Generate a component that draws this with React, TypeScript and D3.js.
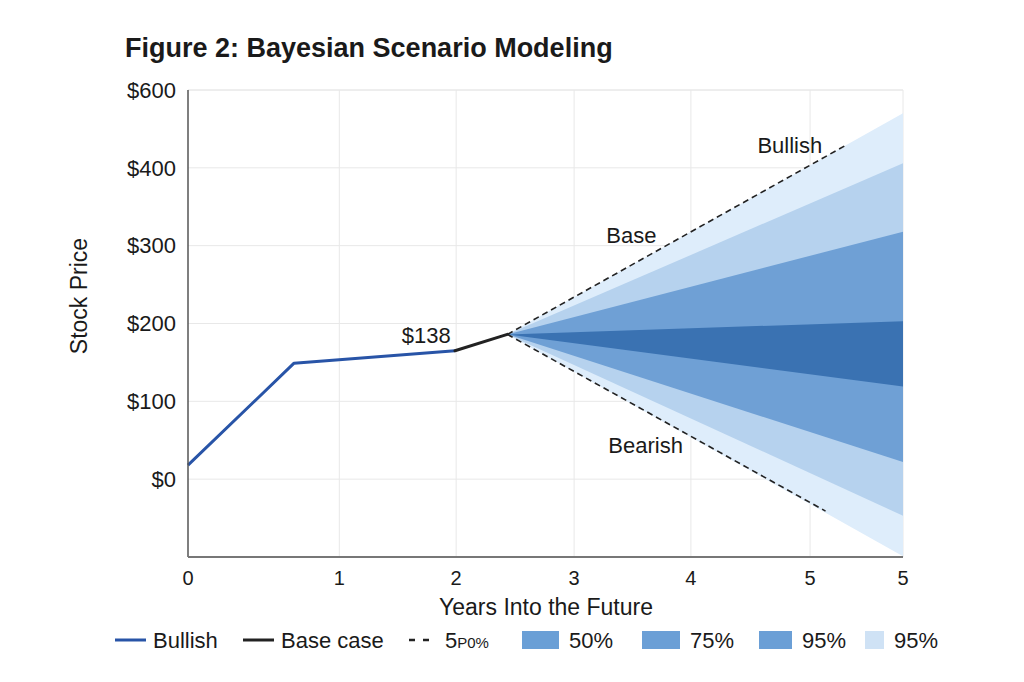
import { useEffect } from 'react';
import * as d3 from 'd3';

// y values are on the drawn scale; labels are what the figure prints
const yTickValues = [0, 100, 200, 300, 400, 500];
const yTickLabels = ['$0', '$100', '$200', '$300', '$400', '$600'];

// x positions of the printed year ticks (the figure spaces them unevenly)
const xTickValues = [0, 1.27, 2.25, 3.24, 4.22, 5.22, 6];
const xTickLabels = ['0', '1', '2', '3', '4', '5', '5'];

// history
const bullishHistory = [
    { x: 0, y: 18 },
    { x: 0.89, y: 149 },
    { x: 2.24, y: 165 },
];
const baseHistory = [
    { x: 2.24, y: 165 },
    { x: 2.68, y: 186 },
];

// scenario dashed lines
const bullishScenario = [
    { x: 2.68, y: 186 },
    { x: 5.52, y: 429 },
];
const bearishScenario = [
    { x: 2.68, y: 186 },
    { x: 5.35, y: -41 },
];

// fan bands: [start, end] for low and high edge
const fanX = [2.68, 6];
const outerLow = [186, -99];
const outerHigh = [186, 470];
const band95Low = [186, -47];
const band95High = [186, 406];
const band75Low = [186, 22];
const band75High = [186, 318];
const band50Low = [186, 119];
const band50High = [186, 203];

const bands = [
    { low: outerLow, high: outerHigh, color: '#deedfb' },
    { low: band95Low, high: band95High, color: '#b6d2ee' },
    { low: band75Low, high: band75High, color: '#6fa0d5' },
    { low: band50Low, high: band50High, color: '#3a72b2' },
];

const legendSwatches = [
    { label: '50%', color: '#6a9fd6' },
    { label: '75%', color: '#6b9fd6' },
    { label: '95%', color: '#6b9fd6' },
    { label: '95%', color: '#cfe2f5' },
];

const width = 1024;
const height = 682;
const margin = { top: 90, right: 121, bottom: 125, left: 188 };
const font = '"Liberation Sans", Arial, sans-serif';

export default function App() {
    useEffect(() => {
        document.body.style.margin = '0';
    }, []);

    const innerWidth = width - margin.left - margin.right;
    const innerHeight = height - margin.top - margin.bottom;

    const x = d3.scaleLinear().domain([0, 6]).range([0, innerWidth]);
    const y = d3.scaleLinear().domain([-100, 500]).range([innerHeight, 0]);

    const line = d3.line<{ x: number; y: number }>()
        .x(d => x(d.x))
        .y(d => y(d.y));

    const area = (low: number[], high: number[]) =>
        d3.area<number>()
            .x(d => x(fanX[d]))
            .y0(d => y(low[d]))
            .y1(d => y(high[d]))([0, 1]) || '';

    const legendY = 640;

    return (
        <svg width={width} height={height} style={{ display: 'block', background: '#fff' }} fontFamily={font}>
            <text x={125} y={57} fontSize={27} fontWeight="bold" fill="#1a1a1a">
                Figure 2: Bayesian Scenario Modeling
            </text>

            <g transform={`translate(${margin.left},${margin.top})`}>
                {/* grid */}
                {[...yTickValues, 500].map((v, i) => (
                    <line key={'gy' + i} x1={0} x2={innerWidth} y1={y(v)} y2={y(v)} stroke="#e8e8e8" strokeWidth={1} />
                ))}
                {xTickValues.slice(1).map((v, i) => (
                    <line key={'gx' + i} x1={x(v)} x2={x(v)} y1={0} y2={innerHeight} stroke="#e8e8e8" strokeWidth={1} />
                ))}

                {/* fan */}
                {bands.map((b, i) => (
                    <path key={'b' + i} d={area(b.low, b.high)} fill={b.color} />
                ))}

                {/* scenario lines */}
                <path d={line(bullishScenario) || ''} fill="none" stroke="#222" strokeWidth={1.6} strokeDasharray="6,4" />
                <path d={line(bearishScenario) || ''} fill="none" stroke="#222" strokeWidth={1.6} strokeDasharray="6,4" />

                {/* history */}
                <path d={line(bullishHistory) || ''} fill="none" stroke="#2854a7" strokeWidth={3} strokeLinejoin="round" />
                <path d={line(baseHistory) || ''} fill="none" stroke="#222" strokeWidth={3} strokeLinecap="round" />

                {/* axes */}
                <line x1={0} x2={0} y1={0} y2={innerHeight} stroke="#555" strokeWidth={1.5} />
                <line x1={0} x2={innerWidth} y1={innerHeight} y2={innerHeight} stroke="#777" strokeWidth={2} />

                {yTickValues.map((v, i) => (
                    <text key={'yt' + i} x={-12} y={y(v)} dy="0.35em" textAnchor="end" fontSize={22} fill="#1a1a1a">
                        {yTickLabels[i]}
                    </text>
                ))}
                {xTickValues.map((v, i) => (
                    <text key={'xt' + i} x={x(v)} y={innerHeight + 28} textAnchor="middle" fontSize={20} fill="#1a1a1a">
                        {xTickLabels[i]}
                    </text>
                ))}

                {/* annotations */}
                <text x={x(5.05)} y={y(429) + 8} textAnchor="middle" fontSize={22} fill="#1a1a1a">Bullish</text>
                <text x={x(3.72)} y={y(314) + 8} textAnchor="middle" fontSize={22} fill="#1a1a1a">Base</text>
                <text x={x(3.84)} y={y(44) + 8} textAnchor="middle" fontSize={22} fill="#1a1a1a">Bearish</text>
                <text x={x(2.0)} y={y(185) + 8} textAnchor="middle" fontSize={22} fill="#1a1a1a">$138</text>
            </g>

            <text x={546} y={615} textAnchor="middle" fontSize={23} fill="#1a1a1a">Years Into the Future</text>
            <text transform="translate(87,296) rotate(-90)" textAnchor="middle" fontSize={23} fill="#1a1a1a">Stock Price</text>

            {/* legend */}
            <g fontSize={22} fill="#1a1a1a">
                <line x1={115} x2={146} y1={legendY} y2={legendY} stroke="#2854a7" strokeWidth={3} />
                <text x={153} y={legendY + 8}>Bullish</text>
                <line x1={243} x2={274} y1={legendY} y2={legendY} stroke="#222" strokeWidth={3} />
                <text x={281} y={legendY + 8}>Base case</text>
                <line x1={409} x2={429} y1={legendY} y2={legendY} stroke="#222" strokeWidth={2.5} strokeDasharray="6,8" />
                <text x={445} y={legendY + 8}>5<tspan fontSize={15}>P0%</tspan></text>
                {legendSwatches.map((s, i) => {
                    const sx = [522, 642, 759, 865][i];
                    const sw = [37, 38, 33, 19][i];
                    return (
                        <g key={'lg' + i}>
                            <rect x={sx} y={legendY - 9} width={sw} height={18} fill={s.color} />
                            <text x={sx + sw + 10} y={legendY + 8}>{s.label}</text>
                        </g>
                    );
                })}
            </g>
        </svg>
    );
}
